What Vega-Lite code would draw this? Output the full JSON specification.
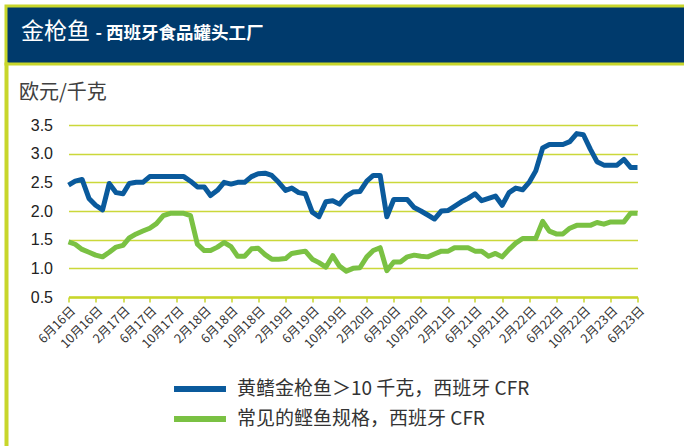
{
  "$schema": "https://vega.github.io/schema/vega-lite/v6.json",
  "padding": {"left": 4, "top": 4, "right": 0, "bottom": 0},
  "background": "white",
  "config": {"view": {"stroke": null}, "font": "Noto Sans CJK SC"},
  "bounds": "flush",
  "spacing": 0,
  "vconcat": [
    {
      "width": 700,
      "height": 58,
      "data": {"values": [{"a": 1}]},
      "mark": {"type": "text", "opacity": 0},
      "encoding": {},
      "view": {"fill": "#003A6C", "stroke": "#C8D62B", "strokeWidth": 3},
      "title": {"text": "金枪鱼", "anchor": "start", "orient": "top", "offset": -38, "dx": 15, "fontSize": 23, "fontWeight": "normal", "color": "white", "font": "Noto Sans CJK SC"}
    },
    {
      "hconcat": [
        {
          "width": 1,
          "height": 400,
          "data": {"values": [{"a": 1}]},
          "mark": {"type": "text", "opacity": 0},
          "encoding": {},
          "view": {"fill": "#C8D62B", "stroke": "#C8D62B", "strokeWidth": 3}
        },
        {
          "vconcat": [
            {
              "width": 569,
              "height": 60.5,
              "data": {"values": [{"a": 1}]},
              "mark": {"type": "text", "opacity": 0},
              "encoding": {},
              "title": {"text": "- 西班牙食品罐头工厂", "anchor": "start", "orient": "top", "offset": 22, "dx": 27, "fontSize": 17.5, "fontWeight": "bold", "color": "white", "font": "Noto Sans CJK SC"}
            },
            {
              "width": 569,
              "height": 172,
              "data": {"values": [
                {"date": "2016-06-01", "yf": 2.45, "sk": 1.46},
                {"date": "2016-07-01", "yf": 2.52, "sk": 1.42},
                {"date": "2016-08-01", "yf": 2.55, "sk": 1.33},
                {"date": "2016-09-01", "yf": 2.22, "sk": 1.28},
                {"date": "2016-10-01", "yf": 2.1, "sk": 1.23},
                {"date": "2016-11-01", "yf": 2.02, "sk": 1.2},
                {"date": "2016-12-01", "yf": 2.48, "sk": 1.28},
                {"date": "2017-01-01", "yf": 2.32, "sk": 1.37},
                {"date": "2017-02-01", "yf": 2.3, "sk": 1.4},
                {"date": "2017-03-01", "yf": 2.48, "sk": 1.53},
                {"date": "2017-04-01", "yf": 2.5, "sk": 1.6},
                {"date": "2017-05-01", "yf": 2.5, "sk": 1.65},
                {"date": "2017-06-01", "yf": 2.6, "sk": 1.7},
                {"date": "2017-07-01", "yf": 2.6, "sk": 1.78},
                {"date": "2017-08-01", "yf": 2.6, "sk": 1.92},
                {"date": "2017-09-01", "yf": 2.6, "sk": 1.96},
                {"date": "2017-10-01", "yf": 2.6, "sk": 1.96},
                {"date": "2017-11-01", "yf": 2.6, "sk": 1.96},
                {"date": "2017-12-01", "yf": 2.52, "sk": 1.92},
                {"date": "2018-01-01", "yf": 2.42, "sk": 1.42},
                {"date": "2018-02-01", "yf": 2.42, "sk": 1.31},
                {"date": "2018-03-01", "yf": 2.27, "sk": 1.31},
                {"date": "2018-04-01", "yf": 2.36, "sk": 1.37},
                {"date": "2018-05-01", "yf": 2.5, "sk": 1.45},
                {"date": "2018-06-01", "yf": 2.47, "sk": 1.38},
                {"date": "2018-07-01", "yf": 2.5, "sk": 1.21},
                {"date": "2018-08-01", "yf": 2.5, "sk": 1.21},
                {"date": "2018-09-01", "yf": 2.6, "sk": 1.34},
                {"date": "2018-10-01", "yf": 2.65, "sk": 1.35},
                {"date": "2018-11-01", "yf": 2.66, "sk": 1.24},
                {"date": "2018-12-01", "yf": 2.62, "sk": 1.16},
                {"date": "2019-01-01", "yf": 2.5, "sk": 1.16},
                {"date": "2019-02-01", "yf": 2.36, "sk": 1.17},
                {"date": "2019-03-01", "yf": 2.4, "sk": 1.26},
                {"date": "2019-04-01", "yf": 2.32, "sk": 1.28},
                {"date": "2019-05-01", "yf": 2.3, "sk": 1.3},
                {"date": "2019-06-01", "yf": 1.98, "sk": 1.16},
                {"date": "2019-07-01", "yf": 1.9, "sk": 1.1},
                {"date": "2019-08-01", "yf": 2.16, "sk": 1.02},
                {"date": "2019-09-01", "yf": 2.18, "sk": 1.22},
                {"date": "2019-10-01", "yf": 2.12, "sk": 1.04},
                {"date": "2019-11-01", "yf": 2.26, "sk": 0.95},
                {"date": "2019-12-01", "yf": 2.33, "sk": 1.0},
                {"date": "2020-01-01", "yf": 2.34, "sk": 1.01},
                {"date": "2020-02-01", "yf": 2.52, "sk": 1.2},
                {"date": "2020-03-01", "yf": 2.62, "sk": 1.31},
                {"date": "2020-04-01", "yf": 2.62, "sk": 1.36},
                {"date": "2020-05-01", "yf": 1.9, "sk": 0.96},
                {"date": "2020-06-01", "yf": 2.2, "sk": 1.11},
                {"date": "2020-07-01", "yf": 2.2, "sk": 1.11},
                {"date": "2020-08-01", "yf": 2.2, "sk": 1.2},
                {"date": "2020-09-01", "yf": 2.06, "sk": 1.23},
                {"date": "2020-10-01", "yf": 2.0, "sk": 1.21},
                {"date": "2020-11-01", "yf": 1.93, "sk": 1.2},
                {"date": "2020-12-01", "yf": 1.86, "sk": 1.25},
                {"date": "2021-01-01", "yf": 2.0, "sk": 1.3},
                {"date": "2021-02-01", "yf": 2.01, "sk": 1.3},
                {"date": "2021-03-01", "yf": 2.08, "sk": 1.36},
                {"date": "2021-04-01", "yf": 2.16, "sk": 1.36},
                {"date": "2021-05-01", "yf": 2.22, "sk": 1.36},
                {"date": "2021-06-01", "yf": 2.3, "sk": 1.3},
                {"date": "2021-07-01", "yf": 2.18, "sk": 1.3},
                {"date": "2021-08-01", "yf": 2.22, "sk": 1.21},
                {"date": "2021-09-01", "yf": 2.26, "sk": 1.26},
                {"date": "2021-10-01", "yf": 2.1, "sk": 1.2},
                {"date": "2021-11-01", "yf": 2.32, "sk": 1.33},
                {"date": "2021-12-01", "yf": 2.4, "sk": 1.44},
                {"date": "2022-01-01", "yf": 2.37, "sk": 1.52},
                {"date": "2022-02-01", "yf": 2.51, "sk": 1.52},
                {"date": "2022-03-01", "yf": 2.7, "sk": 1.52},
                {"date": "2022-04-01", "yf": 3.1, "sk": 1.82},
                {"date": "2022-05-01", "yf": 3.16, "sk": 1.65},
                {"date": "2022-06-01", "yf": 3.16, "sk": 1.6},
                {"date": "2022-07-01", "yf": 3.16, "sk": 1.6},
                {"date": "2022-08-01", "yf": 3.21, "sk": 1.7},
                {"date": "2022-09-01", "yf": 3.35, "sk": 1.75},
                {"date": "2022-10-01", "yf": 3.33, "sk": 1.75},
                {"date": "2022-11-01", "yf": 3.08, "sk": 1.75},
                {"date": "2022-12-01", "yf": 2.86, "sk": 1.8},
                {"date": "2023-01-01", "yf": 2.8, "sk": 1.77},
                {"date": "2023-02-01", "yf": 2.8, "sk": 1.81},
                {"date": "2023-03-01", "yf": 2.8, "sk": 1.81},
                {"date": "2023-04-01", "yf": 2.9, "sk": 1.81},
                {"date": "2023-05-01", "yf": 2.76, "sk": 1.96},
                {"date": "2023-06-01", "yf": 2.76, "sk": 1.96}
              ]},
              "transform": [{"fold": ["yf", "sk"], "as": ["series", "price"]}],
              "mark": {"type": "line", "strokeWidth": 5, "strokeJoin": "round", "strokeCap": "butt"},
              "encoding": {
                "x": {
                  "field": "date", "type": "temporal",
                  "scale": {"type": "utc", "domain": [{"year": 2016, "month": 6, "date": 1, "utc": true}, {"year": 2023, "month": 6, "date": 1, "utc": true}], "nice": false},
                  "axis": {
                    "title": null,
                    "values": [
                      {"year": 2016, "month": 6, "date": 1, "utc": true},
                      {"year": 2016, "month": 10, "date": 1, "utc": true},
                      {"year": 2017, "month": 2, "date": 1, "utc": true},
                      {"year": 2017, "month": 6, "date": 1, "utc": true},
                      {"year": 2017, "month": 10, "date": 1, "utc": true},
                      {"year": 2018, "month": 2, "date": 1, "utc": true},
                      {"year": 2018, "month": 6, "date": 1, "utc": true},
                      {"year": 2018, "month": 10, "date": 1, "utc": true},
                      {"year": 2019, "month": 2, "date": 1, "utc": true},
                      {"year": 2019, "month": 6, "date": 1, "utc": true},
                      {"year": 2019, "month": 10, "date": 1, "utc": true},
                      {"year": 2020, "month": 2, "date": 1, "utc": true},
                      {"year": 2020, "month": 6, "date": 1, "utc": true},
                      {"year": 2020, "month": 10, "date": 1, "utc": true},
                      {"year": 2021, "month": 2, "date": 1, "utc": true},
                      {"year": 2021, "month": 6, "date": 1, "utc": true},
                      {"year": 2021, "month": 10, "date": 1, "utc": true},
                      {"year": 2022, "month": 2, "date": 1, "utc": true},
                      {"year": 2022, "month": 6, "date": 1, "utc": true},
                      {"year": 2022, "month": 10, "date": 1, "utc": true},
                      {"year": 2023, "month": 2, "date": 1, "utc": true},
                      {"year": 2023, "month": 6, "date": 1, "utc": true}
                    ],
                    "labelExpr": "utcFormat(datum.value, '%-m') + '月' + utcFormat(datum.value, '%y') + '日'",
                    "labelAngle": -45,
                    "labelAlign": "right",
                    "labelBaseline": "top",
                    "labelFontSize": 12.5,
                    "labelColor": "#333333",
                    "labelFont": "Noto Sans CJK SC",
                    "labelPadding": 2,
                    "labelOverlap": false,
                    "labelFlush": false,
                    "grid": false,
                    "domainColor": "#C8D62B",
                    "domainWidth": 2.5,
                    "tickColor": "#C8D62B",
                    "tickWidth": 1.5,
                    "tickSize": 5
                  }
                },
                "y": {
                  "field": "price", "type": "quantitative",
                  "scale": {"domain": [0.5, 3.5], "nice": false, "zero": false},
                  "axis": {
                    "title": "欧元/千克",
                    "titleAngle": 0,
                    "titleAlign": "left",
                    "titleBaseline": "alphabetic",
                    "titleX": -50,
                    "titleY": -27,
                    "titleFontSize": 20,
                    "titleFontWeight": "normal",
                    "titleColor": "#404040",
                    "titleFont": "Noto Sans CJK SC",
                    "values": [0.5, 1, 1.5, 2, 2.5, 3, 3.5],
                    "format": ".1f",
                    "labelFontSize": 16,
                    "labelColor": "#222222",
                    "labelFont": "Liberation Sans",
                    "labelPadding": 16,
                    "ticks": false,
                    "domain": false,
                    "grid": true,
                    "gridColor": "#CBD83A",
                    "gridWidth": 1.3
                  }
                },
                "color": {
                  "field": "series", "type": "nominal",
                  "scale": {"domain": ["yf", "sk"], "range": ["#0A5A9C", "#7AC143"]},
                  "legend": {
                    "title": null,
                    "orient": "none",
                    "legendX": 182,
                    "legendY": 371,
                    "symbolType": "M-3,0H3",
                    "symbolSize": 300,
                    "symbolStrokeWidth": 6,
                    "symbolFillColor": "transparent",
                    "rowPadding": 6,
                    "labelOffset": 25,
                    "labelFontSize": 19,
                    "labelColor": "#333333",
                    "labelFont": "Noto Sans CJK SC",
                    "labelLimit": 400,
                    "labelExpr": "datum.value == 'yf' ? '黄鳍金枪鱼＞10 千克，西班牙 CFR' : '常见的鲣鱼规格，西班牙 CFR'"
                  }
                }
              }
            }
          ],
          "spacing": 0,
          "bounds": "flush"
        }
      ],
      "spacing": 61.5,
      "bounds": "flush"
    }
  ]
}
